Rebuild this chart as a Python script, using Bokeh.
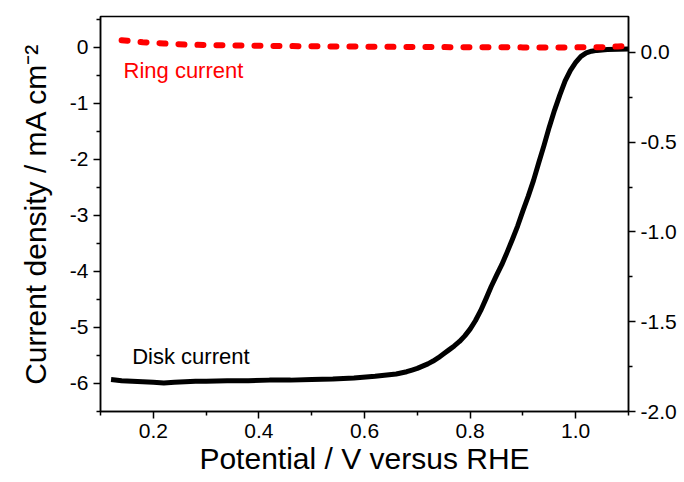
from bokeh.plotting import figure
from bokeh.models import Range1d, LinearAxis, FixedTicker, PrintfTickFormatter, Label
from bokeh.embed import file_html
from bokeh.resources import INLINE

# Disk current density (mA cm^-2) against potential (V vs RHE)
disk_v = [0.12, 0.14, 0.16, 0.18, 0.20, 0.22, 0.24, 0.26, 0.28, 0.30,
          0.34, 0.38, 0.42, 0.46, 0.50, 0.54, 0.58, 0.62, 0.66, 0.68,
          0.69, 0.70, 0.71, 0.72, 0.73, 0.74, 0.75, 0.76, 0.77, 0.78,
          0.79, 0.80, 0.81, 0.82, 0.83, 0.84, 0.85, 0.86, 0.87, 0.88,
          0.89, 0.90, 0.91, 0.92, 0.93, 0.94, 0.95, 0.96, 0.97, 0.98,
          0.99, 1.00, 1.01, 1.02, 1.03, 1.04, 1.06, 1.08, 1.10]
disk_j = [-5.93, -5.95, -5.96, -5.97, -5.98, -5.99, -5.98, -5.97, -5.96, -5.96,
          -5.95, -5.95, -5.94, -5.94, -5.93, -5.92, -5.90, -5.87, -5.83, -5.79,
          -5.76, -5.73, -5.69, -5.65, -5.60, -5.54, -5.47, -5.40, -5.33, -5.25,
          -5.15, -5.03, -4.88, -4.70, -4.49, -4.27, -4.07, -3.88, -3.66, -3.43,
          -3.19, -2.92, -2.66, -2.38, -2.06, -1.75, -1.42, -1.12, -0.85, -0.60,
          -0.41, -0.27, -0.16, -0.10, -0.07, -0.055, -0.04, -0.035, -0.03]

# Ring current (right axis)
ring_v = [0.14, 0.18, 0.22, 0.26, 0.30, 0.35, 0.40, 0.50, 0.60, 0.70,
          0.80, 0.90, 1.00, 1.05, 1.08, 1.10]
ring_i = [0.068, 0.057, 0.050, 0.044, 0.041, 0.039, 0.037, 0.034, 0.032, 0.030,
          0.029, 0.028, 0.028, 0.029, 0.033, 0.037]

x_major = [0.2, 0.4, 0.6, 0.8, 1.0]
x_minor = [0.1, 0.3, 0.5, 0.7, 0.9, 1.1]
left_major = [-6, -5, -4, -3, -2, -1, 0]
left_minor = [-6.5, -5.5, -4.5, -3.5, -2.5, -1.5, -0.5, 0.5]
right_major = [-2.0, -1.5, -1.0, -0.5, 0.0]
right_minor = [-1.75, -1.25, -0.75, -0.25]

FONT = "Liberation Sans"

p = figure(width=684, height=482, output_backend="svg", toolbar_location=None,
           x_range=Range1d(0.1, 1.1), y_range=Range1d(-6.5, 0.55),
           min_border_left=100, min_border_right=56,
           min_border_top=16, min_border_bottom=71)
p.extra_y_ranges = {"ring": Range1d(-2.0, 0.2)}
p.xgrid.visible = False
p.ygrid.visible = False
p.outline_line_color = "black"
p.outline_line_width = 1.5
p.background_fill_color = "white"
p.border_fill_color = "white"

right_axis = LinearAxis(y_range_name="ring")
p.add_layout(right_axis, "right")

for ax, major, minor, fmt in [
    (p.xaxis[0], x_major, x_minor, "%.1f"),
    (p.yaxis[0], left_major, left_minor, "%d"),
    (right_axis, right_major, right_minor, "%.1f"),
]:
    ax.ticker = FixedTicker(ticks=major, minor_ticks=minor)
    ax.formatter = PrintfTickFormatter(format=fmt)
    ax.axis_line_color = "black"
    ax.axis_line_width = 1.5
    ax.major_tick_line_color = "black"
    ax.minor_tick_line_color = "black"
    ax.major_tick_line_width = 1.5
    ax.minor_tick_line_width = 1.5
    ax.major_tick_in = 0
    ax.major_tick_out = 7
    ax.minor_tick_in = 0
    ax.minor_tick_out = 4
    ax.major_label_text_font = FONT
    ax.major_label_text_font_size = "21px"
    ax.major_label_text_color = "black"
    ax.major_label_standoff = 5

# axis titles
p.xaxis[0].axis_label = "Potential / V versus RHE"
p.xaxis[0].axis_label_text_font = FONT
p.xaxis[0].axis_label_text_font_size = "30px"
p.xaxis[0].axis_label_text_font_style = "normal"
p.xaxis[0].axis_label_text_color = "black"
p.xaxis[0].axis_label_standoff = 1

p.yaxis[0].axis_label = "Current density / mA cm\u207b\u00b2"
p.yaxis[0].axis_label_text_font = FONT
p.yaxis[0].axis_label_text_font_size = "30px"
p.yaxis[0].axis_label_text_font_style = "normal"
p.yaxis[0].axis_label_text_color = "black"
p.yaxis[0].axis_label_standoff = 15

# curves
p.line(disk_v, disk_j, line_color="black", line_width=5, line_join="round")
p.line(ring_v, ring_i, y_range_name="ring", line_color="#ff0000", line_width=6,
       line_dash="6 13", line_cap="round")

# curve labels
p.add_layout(Label(x=0.1436, y=-0.415, text="Ring current", text_color="#ff0000",
                   text_font=FONT, text_font_size="22px", text_baseline="alphabetic"))
p.add_layout(Label(x=0.16, y=-5.52, text="Disk current", text_color="black",
                   text_font=FONT, text_font_size="22px", text_baseline="alphabetic"))

open("out.html", "w").write(file_html(p, INLINE))
